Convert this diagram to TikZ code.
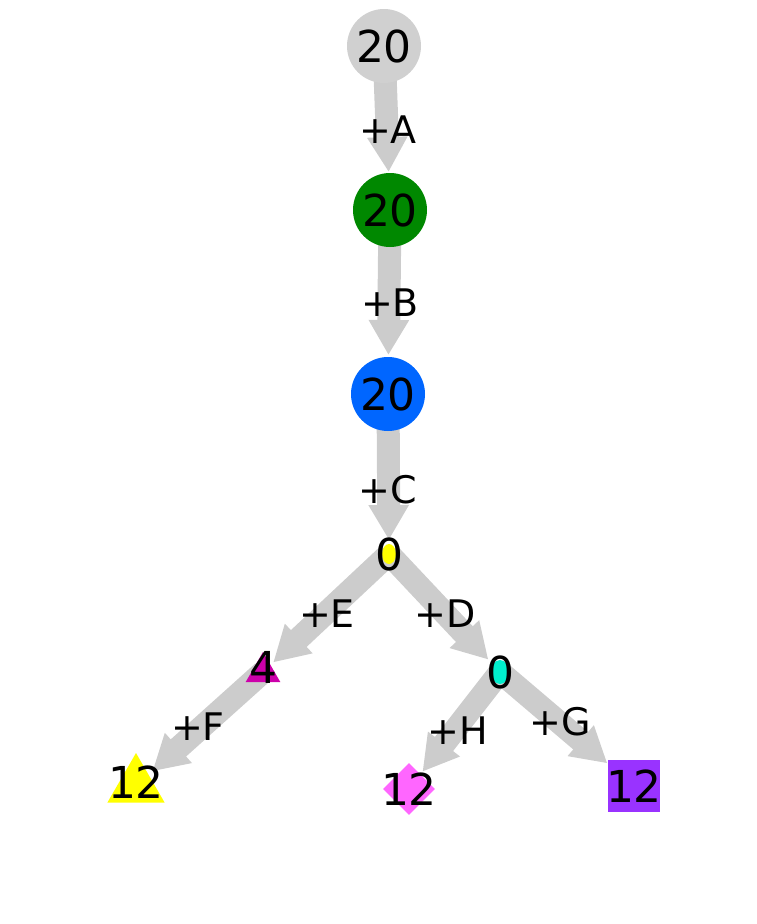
\documentclass[tikz,border=0pt]{standalone}
\usepackage{fontspec}
\setmainfont{DejaVu Sans}
\usetikzlibrary{arrows.meta,shapes.geometric}
\pgfdeclarelayer{bg}
\pgfsetlayers{bg,main}
\definecolor{edgegray}{RGB}{204,204,204}
\definecolor{nodegray}{RGB}{208,208,208}
\definecolor{ngreen}{RGB}{0,136,0}
\definecolor{nblue}{RGB}{0,102,255}
\definecolor{nmagenta}{RGB}{204,0,170}
\definecolor{ncyan}{RGB}{0,238,204}
\definecolor{npink}{RGB}{255,102,255}
\definecolor{npurple}{RGB}{153,51,255}
\definecolor{nyellow}{RGB}{255,255,0}
\begin{document}
\begin{tikzpicture}[x=1pt,y=-1pt,
  edge/.style={draw=edgegray, line width=23pt, -{Triangle[width=38pt,length=35pt]}},
  nodetext/.style={font=\fontsize{44}{44}\selectfont, inner sep=0pt, text=black},
  lbl/.style={font=\fontsize{38}{38}\selectfont, inner sep=0pt},
  bigcircle/.style={circle, minimum size=74pt, inner sep=0pt, nodetext},
  smallshape/.style={inner sep=0pt, draw=none}]
\useasboundingbox (0,0) rectangle (756,924);
% nodes
\node[bigcircle, fill=nodegray] (n1) at (384,46) {20};
\node[bigcircle, fill=ngreen] (n2) at (390,210) {20};
\node[bigcircle, fill=nblue] (n3) at (388,394) {20};
\node[smallshape, ellipse, fill=nyellow, minimum width=14pt, minimum height=20pt,
      label={[nodetext]center:0}] (n4) at (389,554) {};
\node[smallshape, regular polygon, regular polygon sides=3, minimum size=40pt, fill=nmagenta,
      label={[nodetext, yshift=5pt]center:4}] (n5) at (263,672) {};
\node[smallshape, ellipse, fill=ncyan, minimum width=18pt, minimum height=24pt,
      label={[nodetext]center:0}] (n6) at (500,672) {};
\node[smallshape, regular polygon, regular polygon sides=3, minimum size=66pt, fill=nyellow,
      label={[nodetext, yshift=4pt]center:12}] (n7) at (136,786) {};
\node[smallshape, diamond, fill=npink, minimum width=52pt, minimum height=52pt,
      label={[nodetext]center:12}] (n8) at (409,789) {};
\node[smallshape, rectangle, fill=npurple, minimum size=52pt,
      label={[nodetext]center:12}] (n9) at (634,786) {};
% edges
\begin{pgfonlayer}{bg}
\draw[edge, shorten >=38pt] (n1.center) -- (n2.center);
\draw[edge, shorten >=39pt] (n2.center) -- (n3.center);
\draw[edge, shorten >=14pt] (n3.center) -- (n4.center);
\draw[edge, shorten >=14pt] (n4.center) -- (n5.center);
\draw[edge, shorten >=17pt] (n4.center) -- (n6.center);
\draw[edge, shorten >=22pt] (n5.center) -- (n7.center);
\draw[edge, shorten >=22pt] (n6.center) -- (n8.center);
\draw[edge, shorten >=35pt] (n6.center) -- (n9.center);
\end{pgfonlayer}
% edge labels
\node[lbl] (la) at (388,130) {+A};
\node[lbl] (lb) at (390,303) {+B};
\node[lbl] (lc) at (388,490) {+C};
\node[lbl] (le) at (327,614) {+E};
\node[lbl] (ld) at (445,614) {+D};
\node[lbl] (lf) at (198,727) {+F};
\node[lbl] (lh) at (458,731) {+H};
\node[lbl] (lg) at (560,722) {+G};
\end{tikzpicture}
\end{document}
